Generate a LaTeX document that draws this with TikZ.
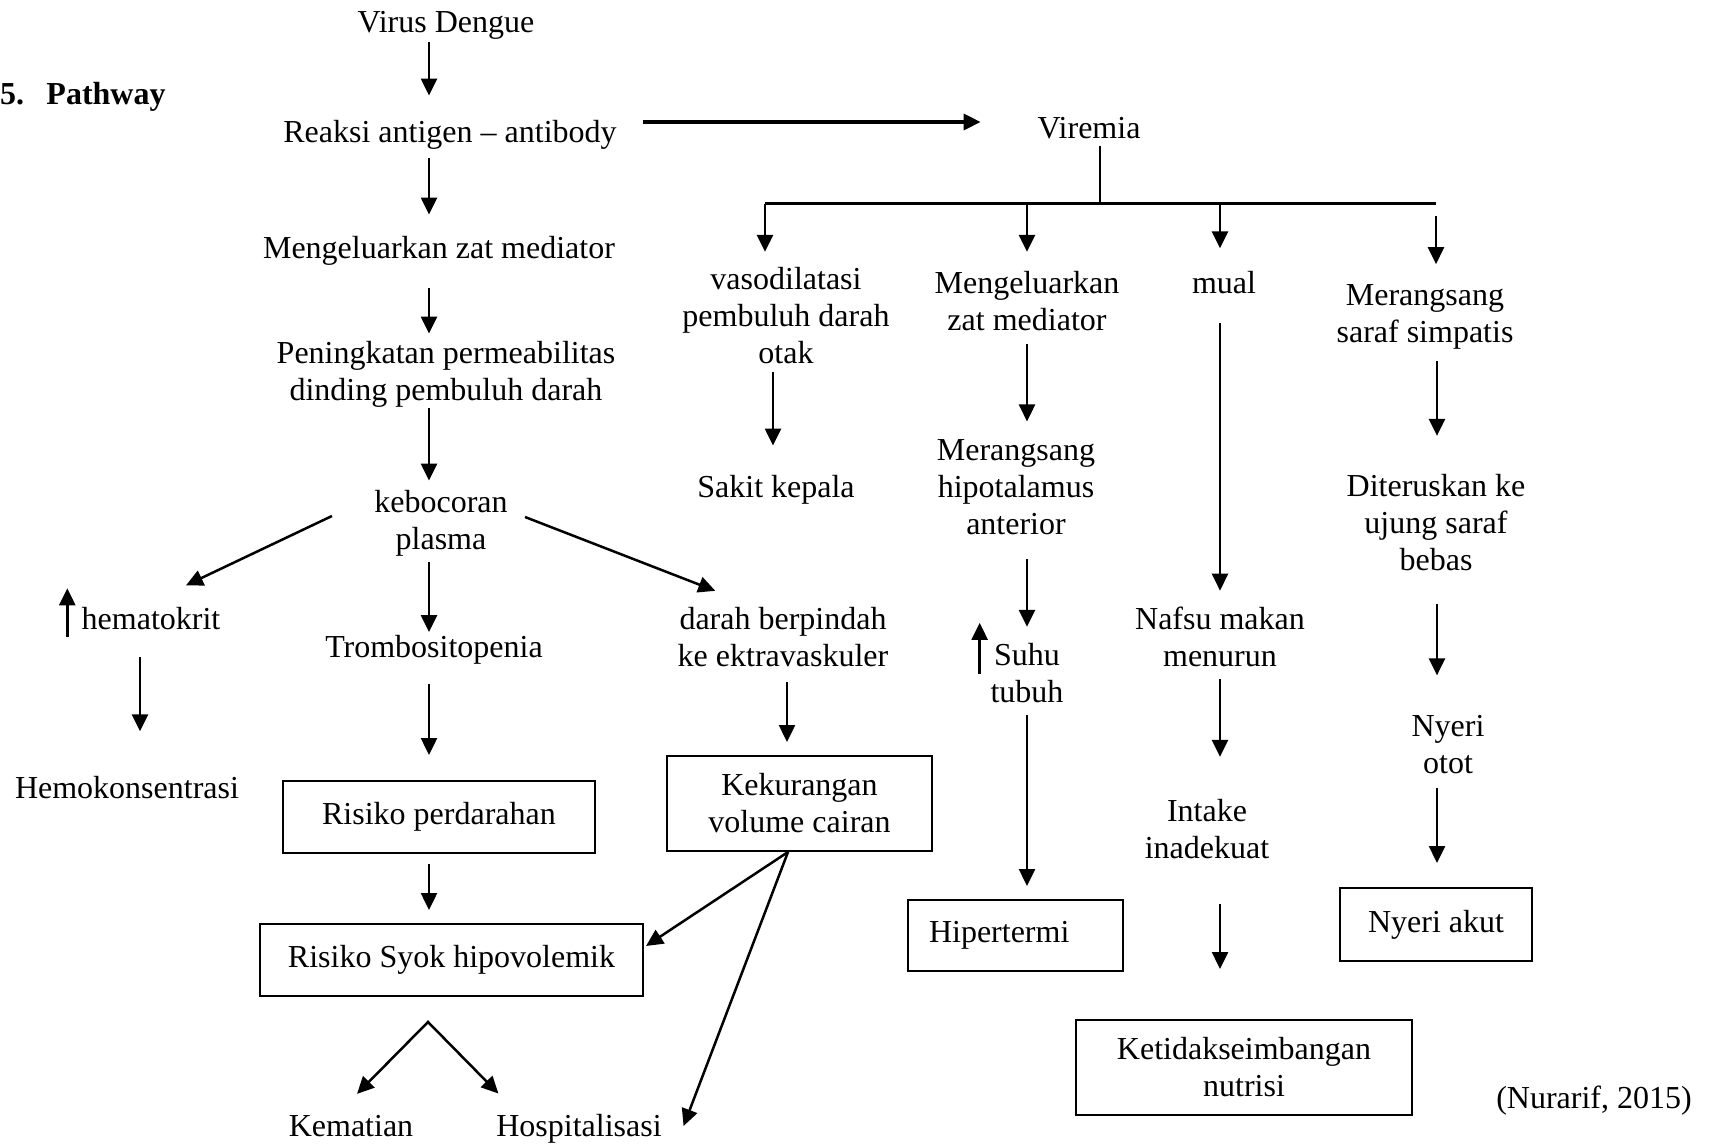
\documentclass[tikz,border=0pt]{standalone}
\usepackage{fontspec}
\setmainfont{Liberation Serif}
\usetikzlibrary{arrows.meta}

\begin{document}
\begin{tikzpicture}[x=0.5pt,y=-0.5pt,
  font=\fontsize{16}{18.5}\selectfont,
  txt/.style={align=center,inner sep=0pt,execute at end node=\vphantom{g},yshift=-1.65pt},
  dxbox/.style={draw,line width=1pt,align=center,inner sep=0pt},
  arr/.style={-{Triangle[length=8.5pt,width=8pt]},line width=1.25pt},
  arrs/.style={{Triangle[length=8.5pt,width=8pt]}-{Triangle[length=8.5pt,width=8pt]},line width=1.25pt},
  gaps/.style 2 args={shorten <=#1,shorten >=#2}]
 \useasboundingbox (0,0) rectangle (1713,1144);
 % columns of the arrows
 \coordinate (cA) at (429,0);
 \coordinate (cH) at (140,0);
 \coordinate (cV) at (773,0);
 \coordinate (cD) at (787,0);
 \coordinate (cM) at (1220,0);
 \coordinate (cS) at (1437,0);
 \node[anchor=west,font=\fontsize{16}{18.5}\selectfont\bfseries] (ttl) at (-7,97) {5.\hspace{11.2pt}Pathway};
 % left part
 \node[txt] (vd) at (446,22) {Virus Dengue};
 \node[txt] (ra) at (450,132) {Reaksi antigen – antibody};
 \node[txt] (mz) at (439,248) {Mengeluarkan zat mediator};
 \node[txt] (pp) at (446,371) {Peningkatan permeabilitas\\dinding pembuluh darah};
 \node[txt] (kp) at (441,520) {kebocoran\\plasma};
 \node[txt] (hem) at (151,619) {hematokrit};
 \node[txt] (hk) at (127,788) {Hemokonsentrasi};
 \node[txt] (tr) at (434,647) {Trombositopenia};
 \node[txt] (dr) at (783,637) {darah berpindah\\ke ektravaskuler};
 \node[dxbox,minimum width=156pt,minimum height=36pt] (perd) at (439,817) {Risiko perdarahan};
 \node[dxbox,minimum width=191.5pt,minimum height=36pt] (syok) at (451.5,960) {Risiko Syok hipovolemik};
 \node[dxbox,minimum width=132.5pt,minimum height=47.5pt] (kcr) at (799.5,803.5) {Kekurangan\\volume cairan};
 \node[txt] (kem) at (351,1126) {Kematian};
 \node[txt] (hosp) at (579,1126) {Hospitalisasi};
 % right part
 \node[txt] (vir) at (1089,128) {Viremia};
 \node[txt] (vaso) at (786,316) {vasodilatasi\\pembuluh darah\\otak};
 \node[txt] (sk) at (776,487) {Sakit kepala};
 \node[txt] (mz2) at (1027,301) {Mengeluarkan\\zat mediator};
 \node[txt] (mh) at (1016,487) {Merangsang\\hipotalamus\\anterior};
 \node[txt] (suhu) at (1027,673.5) {Suhu\\tubuh};
 \node[dxbox,minimum width=107.5pt,minimum height=35.5pt,text width=86.5pt,align=left] (hip) at (1015.5,935.5) {Hipertermi};
 \node[txt] (mual) at (1224,283) {mual};
 \node[txt] (nm) at (1220,637) {Nafsu makan\\menurun};
 \node[txt] (ink) at (1207,829.5) {Intake\\inadekuat};
 \node[dxbox,minimum width=168pt,minimum height=47.5pt] (nut) at (1244,1067.5) {Ketidakseimbangan\\nutrisi};
 \node[txt] (sar) at (1425,314) {Merangsang\\saraf simpatis};
 \node[txt] (dit) at (1436,523) {Diteruskan ke\\ujung saraf\\bebas};
 \node[txt] (ny) at (1448,745) {Nyeri\\otot};
 \node[dxbox,minimum width=96pt,minimum height=36.5pt] (akut) at (1436,924.5) {Nyeri akut};
 \node[txt] (src) at (1594,1097) {(Nurarif, 2015)};
 % main column
 \draw[arr,gaps={1.1pt}{12.4pt}] (vd.south -| cA) -- (ra.north -| cA);
 \draw[arr,gaps={4.1pt}{10.9pt}] (ra.south -| cA) -- (mz.north -| cA);
 \draw[arr,gaps={11.1pt}{3.65pt}] (mz.south -| cA) -- (pp.north -| cA);
 \draw[arr,gaps={0pt}{4.65pt}] (pp.south -| cA) -- (kp.north -| cA);
 \draw[arr,gaps={2.85pt}{1.65pt}] (kp.south -| cA) -- (tr.north -| cA);
 \draw[arr,gaps={9.6pt}{12.5pt}] (tr.south -| cA) -- (perd.north -| cA);
 \draw[arr,gaps={5pt}{6.5pt}] (perd.south -| cA) -- (syok.north -| cA);
 \draw[arr] ([xshift=-21pt,yshift=3.65pt]kp.west) -- ([xshift=17.5pt,yshift=11pt]hem.north);
 \draw[arr] ([xshift=8.5pt,yshift=3.15pt]kp.east) -- ([xshift=19pt,yshift=8pt]dr.north west);
 \draw[arr,gaps={10.1pt}{22.5pt}] (hem.south -| cH) -- (hk.north -| cH);
 \draw[arr] ([xshift=-7pt,yshift=-7.35pt]hem.west) -- ([xshift=-7pt,yshift=17pt]hem.west);
 \draw[arr,gaps={4.1pt}{6.5pt}] (dr.south -| cD) -- (kcr.north -| cD);
 \coordinate (kb) at ([xshift=-5.75pt]kcr.south);
 \draw[arr] (kb) -- ([xshift=1pt,yshift=7pt]syok.east);
 \draw[arr] (kb) -- ([xshift=10.75pt,yshift=1.65pt]hosp.east);
 \coordinate (apex) at ([xshift=-11.75pt,yshift=-12.5pt]syok.south);
 \draw[arrs] ([xshift=3pt,yshift=10.5pt]kem.north) -- (apex) -- ([xshift=1.25pt,yshift=10.4pt]hosp.north west);
 % viremia and its branches
 \draw[arr,line width=1.6pt,gaps={12.75pt}{28.25pt}] ([yshift=6.65pt]ra.east) -- ([yshift=4.65pt]vir.west);
 \coordinate (br) at (1100,204);
 \coordinate (brL) at (765,204);
 \coordinate (brR) at (1436,204);
 \draw[line width=1.3pt] (vir.south -| br) -- (br);
 \draw[line width=1.5pt] (brL) -- (brR);
 \draw[arr,gaps={0pt}{7.75pt}] (brL) -- (vaso.north -| brL);
 \draw[arr,gaps={0pt}{9.5pt}] (mz2.north |- br) -- (mz2.north);
 \draw[arr,gaps={0pt}{11.5pt}] (br -| cM) -- (mual.north -| cM);
 \draw[arr,gaps={6pt}{10.15pt}] (brR) -- (sar.north -| brR);
 \draw[arr,gaps={0.35pt}{14.9pt}] (vaso.south -| cV) -- (sk.north -| cV);
 \draw[arr,gaps={3.1pt}{8.75pt}] (mz2.south) -- (mh.north -| mz2);
 \draw[arr,gaps={8.85pt}{8.25pt}] (mh.south -| mz2) -- (suhu.north);
 \draw[arr] ([xshift=-5.25pt,yshift=-15.25pt]suhu.north west) -- ([xshift=-5.25pt,yshift=10.25pt]suhu.north west);
 \draw[arr,gaps={2.35pt}{6.5pt}] (suhu.south) -- (hip.north -| suhu);
 \draw[arr,gaps={11.1pt}{8pt}] (mual.south -| cM) -- (nm.north);
 \draw[arr,gaps={2.6pt}{21.25pt}] (nm.south) -- (ink.north -| nm);
 \draw[arr,gaps={18.85pt}{25pt}] (ink.south -| nm) -- (nut.north -| nm);
 \draw[arr,gaps={5.35pt}{19.25pt}] (sar.south -| cS) -- (dit.north -| cS);
 \draw[arr,gaps={12.85pt}{20pt}] (dit.south -| cS) -- (ny.north -| cS);
 \draw[arr,gaps={3.6pt}{12pt}] (ny.south -| cS) -- (akut.north -| cS);
\end{tikzpicture}
\end{document}
